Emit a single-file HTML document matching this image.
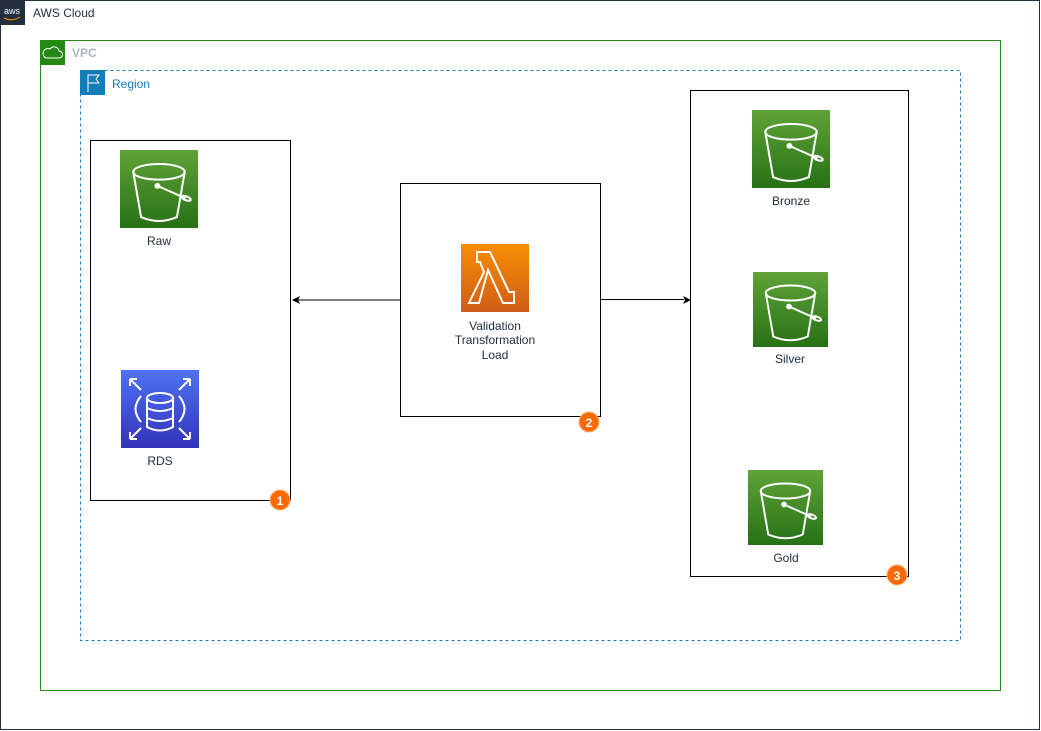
<!DOCTYPE html>
<html><head><style>body{margin:0;background:#fff}svg{display:block}text{font-family:"Liberation Sans",sans-serif}</style></head>
<body>
<svg width="1041" height="731" viewBox="0 0 1041 731" xmlns="http://www.w3.org/2000/svg">
<defs>
<linearGradient id="g" x1="0" y1="0" x2="0" y2="1"><stop offset="0" stop-color="#60a337"/><stop offset="1" stop-color="#277116"/></linearGradient>
<linearGradient id="o" x1="0" y1="0" x2="0" y2="1"><stop offset="0" stop-color="#f78e04"/><stop offset="1" stop-color="#d05c17"/></linearGradient>
<linearGradient id="b" x1="0" y1="0" x2="0" y2="1"><stop offset="0" stop-color="#4d72f3"/><stop offset="1" stop-color="#3334b9"/></linearGradient>
<g id="bk" fill="none" stroke="#fff" stroke-width="2.6">
<ellipse cx="50" cy="28" rx="33" ry="10"/>
<path d="M17 28 L27 86 Q50 96 73 86 L83 28"/>
<path d="M48 46 L84 62"/><ellipse cx="85" cy="62" rx="6" ry="2.5" transform="rotate(20 85 62)" fill="none"/>
<circle cx="48" cy="46" r="2.5" fill="#fff"/>
</g>
</defs>
<rect x="0.5" y="0.5" width="1039" height="729" fill="none" stroke="#232f3e"/>
<rect x="0" y="0" width="25" height="25" fill="#232f3e"/>
<text x="4" y="14" font-size="9" fill="#fff">aws</text>
<path d="M4 18 Q12 22 20 17" stroke="#f90" fill="none" stroke-width="1"/>
<text x="33" y="17" font-size="12" fill="#232f3e">AWS Cloud</text>

<rect x="40.5" y="40.5" width="960" height="650" fill="none" stroke="#248814"/>
<rect x="40" y="40" width="25" height="25" fill="#248814"/>
<path d="M46 58 h13 a3.5 3.5 0 0 0 0-7 a5 5 0 0 0-9-2 a4 4 0 0 0-4 9z" fill="none" stroke="#fff" stroke-width="1"/>
<text x="72" y="57" font-size="12" font-weight="bold" fill="#aab7b8">VPC</text>

<rect x="80.5" y="70.5" width="880" height="570" fill="none" stroke="#147eba" stroke-dasharray="3,3"/>
<rect x="80" y="70" width="25" height="25" fill="#147eba"/>
<path d="M88 92 V75 H99 L96 79 L99 83 H88" fill="none" stroke="#fff" stroke-width="1"/>
<text x="112" y="88" font-size="12" fill="#147eba">Region</text>

<rect x="90.5" y="140.5" width="200" height="360" fill="#fff" stroke="#000"/>
<rect x="120" y="150" width="78" height="78" fill="url(#g)"/>
<use href="#bk" transform="translate(120,150) scale(0.78)"/>
<text x="159" y="245" font-size="12" fill="#232f3e" text-anchor="middle">Raw</text>
<rect x="121" y="370" width="78" height="78" fill="url(#b)"/>
<g fill="none" stroke="#fff" stroke-width="2">
<ellipse cx="160" cy="398" rx="13" ry="5"/><path d="M147 398 V427 Q160 434 173 427 V398 M147 408 Q160 414 173 408 M147 418 Q160 424 173 418"/>
<path d="M141 396 Q130 409 141 422 M179 396 Q190 409 179 422"/>
<path d="M130 379 L141 390 M130 379 h7 M130 379 v7 M190 379 L179 390 M190 379 h-7 M190 379 v7 M130 439 L141 428 M130 439 h7 M130 439 v-7 M190 439 L179 428 M190 439 h-7 M190 439 v-7"/>
</g>
<text x="160" y="465" font-size="12" fill="#232f3e" text-anchor="middle">RDS</text>
<circle cx="280" cy="500" r="10" fill="#ff6a00" stroke="#ffb27a"/>
<text x="280" y="505" font-size="12" font-weight="bold" fill="#fff" text-anchor="middle">1</text>

<rect x="400.5" y="183.5" width="200" height="233" fill="#fff" stroke="#000"/>
<rect x="461" y="244" width="68" height="68" fill="url(#o)"/>
<path d="M477 252 H490 L509 292 H514 V303 H503 L488 270 L479 303 H469 L484 272 L480 262 H477 Z" fill="none" stroke="#fff" stroke-width="2"/>
<text x="495" y="330" font-size="12" fill="#232f3e" text-anchor="middle">Validation</text>
<text x="495" y="344" font-size="12" fill="#232f3e" text-anchor="middle">Transformation</text>
<text x="495" y="359" font-size="12" fill="#232f3e" text-anchor="middle">Load</text>
<circle cx="589" cy="422" r="10" fill="#ff6a00" stroke="#ffb27a"/>
<text x="589" y="427" font-size="12" font-weight="bold" fill="#fff" text-anchor="middle">2</text>

<rect x="690.5" y="90.5" width="218" height="486" fill="#fff" stroke="#000"/>
<rect x="752" y="110" width="78" height="78" fill="url(#g)"/>
<use href="#bk" transform="translate(752,110) scale(0.78)"/>
<text x="791" y="205" font-size="12" fill="#232f3e" text-anchor="middle">Bronze</text>
<rect x="753" y="272" width="75" height="75" fill="url(#g)"/>
<use href="#bk" transform="translate(753,272) scale(0.75)"/>
<text x="790" y="363" font-size="12" fill="#232f3e" text-anchor="middle">Silver</text>
<rect x="748" y="470" width="75" height="75" fill="url(#g)"/>
<use href="#bk" transform="translate(748,470) scale(0.75)"/>
<text x="786" y="562" font-size="12" fill="#232f3e" text-anchor="middle">Gold</text>
<circle cx="897" cy="575" r="10" fill="#ff6a00" stroke="#ffb27a"/>
<text x="897" y="580" font-size="12" font-weight="bold" fill="#fff" text-anchor="middle">3</text>

<path d="M400 300 H298" stroke="#000" fill="none"/>
<path d="M292 300 L300 296 L298 300 L300 304Z" fill="#000"/>
<path d="M600 299.5 H684" stroke="#000" fill="none"/>
<path d="M691 300 L683 296 L685 300 L683 304Z" fill="#000"/>
</svg>
</body></html>
